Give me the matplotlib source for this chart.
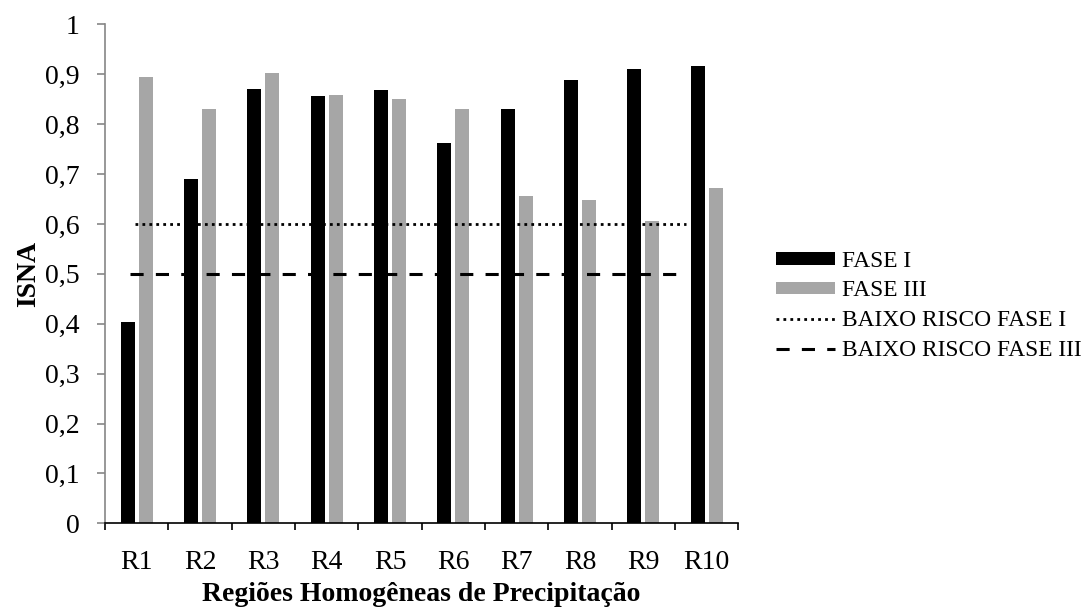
import numpy as np
import matplotlib
matplotlib.use("Agg")
import matplotlib.pyplot as plt

plt.rcParams['font.family'] = ['Liberation Serif', 'DejaVu Serif']

regioes = ['R1', 'R2', 'R3', 'R4', 'R5', 'R6', 'R7', 'R8', 'R9', 'R10']
fase1 = [0.403, 0.691, 0.870, 0.857, 0.868, 0.763, 0.830, 0.889, 0.910, 0.917]
fase3 = [0.895, 0.830, 0.902, 0.859, 0.850, 0.830, 0.655, 0.647, 0.606, 0.673]
risco_fase1 = 0.6
risco_fase3 = 0.5
yticks = [0, 0.1, 0.2, 0.3, 0.4, 0.5, 0.6, 0.7, 0.8, 0.9, 1]
ylabels = ['0', '0,1', '0,2', '0,3', '0,4', '0,5', '0,6', '0,7', '0,8', '0,9', '1']

fig = plt.figure(figsize=(10.89, 6.09), dpi=100)
ax = fig.add_axes([0.0964, 0.1407, 0.5816, 0.8193])

x = np.arange(len(regioes))
w = 0.22
ax.bar(x - 0.142, fase1, w, color='black', label='FASE I', zorder=2)
ax.bar(x + 0.142, fase3, w, color='#a6a6a6', label='FASE III', zorder=2)

ax.plot([-0.03, 8.68], [risco_fase1, risco_fase1], color='black', lw=2.0,
        linestyle=(0, (1, 1.5)), label='BAIXO RISCO FASE I', zorder=3)
ax.plot([-0.11, 8.58], [risco_fase3, risco_fase3], color='black', lw=2.2,
        linestyle=(0, (4.3, 4)), label='BAIXO RISCO FASE III', zorder=3)

ax.set_xlim(-0.5, len(regioes) - 0.5)
ax.set_ylim(0, 1)
ax.set_yticks(yticks)
ax.set_yticklabels(ylabels)
ax.set_xticks(x)
ax.set_xticklabels(regioes)
ax.set_xticks(np.arange(-0.5, len(regioes)), minor=True)
ax.tick_params(axis='x', which='major', length=0, labelsize=20, pad=19)
ax.tick_params(axis='x', which='minor', length=5, width=1.2, direction='out')
ax.tick_params(axis='y', labelsize=20, length=6, color='#868686', width=1.2, pad=12)

for s in ['top', 'right']:
    ax.spines[s].set_visible(False)
ax.spines['left'].set_color('#868686')
ax.spines['left'].set_linewidth(1.2)
ax.spines['bottom'].set_color('black')
ax.spines['bottom'].set_linewidth(1.2)

ax.set_xlabel('Regiões Homogêneas de Precipitação', fontsize=20, fontweight='bold', labelpad=5)
ax.set_ylabel('ISNA', fontsize=20, fontweight='bold', labelpad=3)

h, l = ax.get_legend_handles_labels()
order = [2, 3, 0, 1]
fig.legend([h[i] for i in order], [l[i] for i in order], loc='upper left',
           bbox_to_anchor=(0.693, 0.623), frameon=False,
           fontsize=16.8, handlelength=2.55, handleheight=0.45, labelspacing=0.38,
           handletextpad=0.3)

fig.savefig('out.png', dpi=100)
